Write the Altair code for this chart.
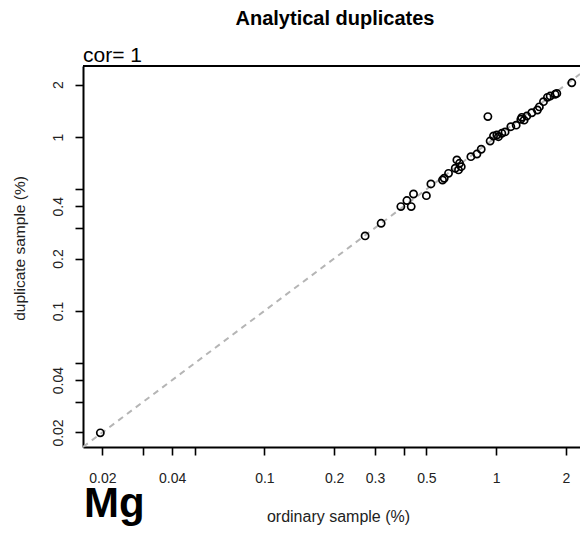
import altair as alt
import pandas as pd

# ---- data ----
ordinary = [0.0196, 0.272, 0.319, 0.388, 0.412, 0.44, 0.43, 0.50, 0.523, 0.587, 0.597,
            0.623, 0.666, 0.677, 0.695, 0.707, 0.688, 0.778, 0.826, 0.862, 0.921, 0.942,
            0.974, 1.007, 1.023, 1.058, 1.093, 1.157, 1.22, 1.278, 1.29, 1.32, 1.356,
            1.425, 1.506, 1.536, 1.60, 1.664, 1.71, 1.796, 1.827, 2.12]
duplicate = [0.0199, 0.270, 0.319, 0.398, 0.431, 0.470, 0.398, 0.46, 0.537, 0.566, 0.579,
             0.618, 0.661, 0.738, 0.706, 0.675, 0.647, 0.771, 0.798, 0.850, 1.31, 0.948,
             1.013, 1.027, 1.004, 1.05, 1.07, 1.146, 1.17, 1.264, 1.297, 1.25, 1.32,
             1.379, 1.43, 1.49, 1.597, 1.69, 1.72, 1.76, 1.78, 2.05]

x_domain = [0.0165, 2.30]
y_domain = [0.0165, 2.56]
tick_values = [0.02, 0.03, 0.04, 0.05, 0.1, 0.2, 0.3, 0.4, 0.5, 1, 2]
x_hidden = [0.03, 0.05, 0.4]
y_hidden = [0.03, 0.05, 0.3, 0.5]
ref_line = [x_domain[0], x_domain[1]]

title_text = "Analytical duplicates"
cor_text = "cor= 1"
element = "Mg"

W, H = 497, 381
FONT = "Liberation Sans"

pts = pd.DataFrame({"ordinary": ordinary, "duplicate": duplicate})
line_df = pd.DataFrame({"ordinary": ref_line, "duplicate": ref_line})

def hide_expr(vals):
    arr = ",".join(str(v) for v in vals)
    return f"indexof([{arr}], datum.value) >= 0 ? '' : datum.label"

x_scale = alt.Scale(type="log", domain=x_domain, nice=False, zero=False)
y_scale = alt.Scale(type="log", domain=y_domain, nice=False, zero=False)

x_axis = alt.Axis(values=tick_values, format="~g", labelExpr=hide_expr(x_hidden),
                  title="ordinary sample (%)", grid=False, domainColor="black",
                  domainWidth=2, tickColor="black", tickWidth=1.6, tickSize=8,
                  labelFont=FONT, labelFontSize=14, labelColor="#222",
                  labelBaseline="alphabetic", labelPadding=27, labelOverlap=False,
                  labelFlush=False, titleFont=FONT, titleFontSize=16,
                  titleFontWeight="normal", titleColor="#222", titleX=255, titleY=74,
                  titleAlign="center", titleBaseline="alphabetic")
y_axis = alt.Axis(values=tick_values, format="~g", labelExpr=hide_expr(y_hidden),
                  title="duplicate sample (%)", grid=False, domainColor="black",
                  domainWidth=2, tickColor="black", tickWidth=1.6, tickSize=8,
                  labelFont=FONT, labelFontSize=14, labelColor="#222", labelAngle=270,
                  labelAlign="center", labelBaseline="alphabetic", labelPadding=13,
                  labelOverlap=False, labelFlush=False, titleFont=FONT,
                  titleFontSize=15.5, titleFontWeight="normal", titleColor="#222",
                  titleAngle=270, titleX=-59, titleY=182, titleAlign="center",
                  titleBaseline="alphabetic")

base = alt.Chart(pts)

points = base.mark_point(shape="circle", filled=False, color="black", size=52,
                         strokeWidth=1.7, opacity=1).encode(
    x=alt.X("ordinary:Q", scale=x_scale, axis=x_axis),
    y=alt.Y("duplicate:Q", scale=y_scale, axis=y_axis),
)

line = alt.Chart(line_df).mark_line(color="#b5b5b5", strokeWidth=2,
                                     strokeDash=[6, 5]).encode(
    x=alt.X("ordinary:Q", scale=x_scale),
    y=alt.Y("duplicate:Q", scale=y_scale),
)

top_border = alt.Chart(pd.DataFrame({"a": [0]})).mark_rule(
    color="black", strokeWidth=2).encode(
    x=alt.value(0), x2=alt.value(W + 2), y=alt.value(0))

def label(text, x, y, size, weight, align):
    return alt.Chart(pd.DataFrame({"t": [text]})).mark_text(
        font=FONT, fontSize=size, fontWeight=weight, align=align,
        baseline="alphabetic", color="black").encode(
        text="t:N", x=alt.value(x), y=alt.value(y))

title = label(title_text, 252, -41, 20, "bold", "center")
cor = label(cor_text, 0, -4, 21, "normal", "left")
mg = label(element, 1, 451, 42, "bold", "left")

chart = alt.layer(line, points, top_border, title, cor, mg).properties(
    width=W, height=H,
    autosize=alt.AutoSizeParams(type="none"),
    padding={"left": 75, "top": 58, "right": 0, "bottom": 79},
    background="white",
).configure_view(stroke=None)

chart.save("out.html", embed_options={"renderer": "svg", "actions": False})
